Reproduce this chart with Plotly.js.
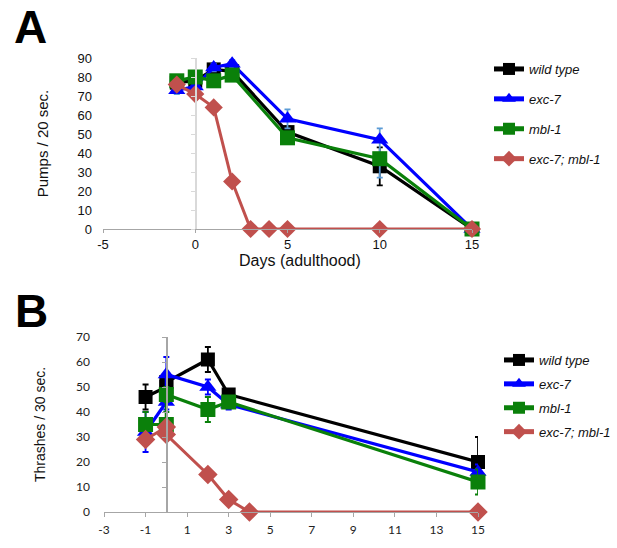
<!DOCTYPE html>
<html>
<head>
<meta charset="utf-8">
<script src="https://cdn.plot.ly/plotly-3.0.1.min.js"></script>
<style>html,body{margin:0;padding:0;background:#fff;}#chart{width:617px;height:548px;}</style>
</head>
<body>
<div id="chart"></div>
<script>
// ---------- Data ----------
const seriesNames = ["wild type", "exc-7", "mbl-1", "exc-7; mbl-1"];

// Panel A: pumps / 20 sec
const aDays = [-1, 0, 1, 2, 5, 10, 15];
const aWildType = [77, 78, 84, 83, 51, 33, 0];
const aWildTypeErr = [2, 2, 3, 2, 3, 10, 0];
const aExc7 = [73, 75, 85, 87, 58, 47, 0];
const aExc7ErrPlus = [2, 2, 2, 2, 5, 6, 0];
const aExc7ErrMinus = [2, 2, 2, 2, 5, 20, 0];
const aMbl1 = [78, 80, 78, 81, 48, 37, 0];
const aMbl1Err = [2, 2, 2, 2, 2, 3, 0];
const aDaysDouble = [-1, 0, 1, 2, 3, 4, 5, 10, 15];
const aDouble = [76, 71, 64, 25, 0, 0, 0, 0, 0];
const aDoubleErr = [1, 1, 1, 1, 0, 0, 0, 0, 0];

// Panel B: thrashes / 30 sec
const bDays = [-1, 0, 0, 2, 3, 15];
const bWildType = [46, 50, 52, 61, 47, 20];
const bWildTypeErr = [5, 2, 3, 5, 2, 10];
const bExc7 = [32, 44, 55, 50, 43, 16];
const bExc7Err = [8, 3, 7, 3, 2, 3];
const bMbl1 = [35, 35, 47, 41, 44, 12];
const bMbl1Err = [5, 5, 3, 5, 2, 5];
const bDaysDouble = [-1, 0, 0, 2, 3, 4, 15];
const bDouble = [29, 34, 31, 15, 5, 0, 0];
const bDoubleErr = [2, 2, 2, 2, 1, 0, 0];

const aTicks = [-5, 0, 5, 10, 15];
const bTicks = [-3, -1, 1, 3, 5, 7, 9, 11, 13, 15];

// ---------- Styles ----------
const colors = ["#000000", "#0000ff", "#0a800a", "#c0504d"];
const symbols = ["square", "triangle-up", "square", "diamond"];

function tr(x, y, errPlus, errMinus, i, xa, ya, legend, errColor, msize) {
  return {
    type: "scatter", mode: "lines+markers",
    x: x, y: y, xaxis: xa, yaxis: ya,
    name: seriesNames[i], legend: legend, legendgroup: legend + i,
    line: {color: colors[i], width: i === 3 ? 3 : 3.2},
    marker: {symbol: symbols[i], color: colors[i], size: msize[i]},
    error_y: {type: "data", array: errPlus, arrayminus: errMinus, symmetric: false,
              color: errColor, thickness: 1.8, width: 3},
    cliponaxis: false
  };
}

const aSizes = [14, 15, 15, 14];
const bSizes = [14, 15, 15, 15];

const data = [
  tr(aDays, aWildType, aWildTypeErr, aWildTypeErr, 0, "x", "y", "legend", "#000000", aSizes),
  tr(aDays, aExc7, aExc7ErrPlus, aExc7ErrMinus, 1, "x", "y", "legend", "#5b9bd5", aSizes),
  tr(aDays, aMbl1, aMbl1Err, aMbl1Err, 2, "x", "y", "legend", "#0a800a", aSizes),
  tr(aDaysDouble, aDouble, aDoubleErr, aDoubleErr, 3, "x", "y", "legend", "#c0504d", aSizes),
  tr(bDays, bWildType, bWildTypeErr, bWildTypeErr, 0, "x2", "y2", "legend2", "#000000", bSizes),
  tr(bDays, bExc7, bExc7Err, bExc7Err, 1, "x2", "y2", "legend2", "#0000ff", bSizes),
  tr(bDays, bMbl1, bMbl1Err, bMbl1Err, 2, "x2", "y2", "legend2", "#0a800a", bSizes),
  tr(bDaysDouble, bDouble, bDoubleErr, bDoubleErr, 3, "x2", "y2", "legend2", "#c0504d", bSizes),
  // carriers for the vertical axes drawn at x = 0
  {type: "scatter", x: [0], y: [0], xaxis: "x", yaxis: "y3", mode: "markers",
   marker: {opacity: 0}, showlegend: false, hoverinfo: "skip"},
  {type: "scatter", x: [0], y: [0], xaxis: "x2", yaxis: "y4", mode: "markers",
   marker: {opacity: 0}, showlegend: false, hoverinfo: "skip"}
];

const W = 617, H = 548;
const px = v => v / W;
const py = v => 1 - v / H;

const fontA = {family: "Liberation Sans, Arial, sans-serif", size: 13, color: "#111"};
const fontB = {family: "Lato, Carlito, sans-serif", size: 12, color: "#222"};

const layout = {
  width: W, height: H,
  margin: {l: 0, r: 0, t: 0, b: 0},
  paper_bgcolor: "#fff", plot_bgcolor: "#fff",
  showlegend: true,
  xaxis: {
    domain: [px(103), px(472)], anchor: "y", range: [-5, 15],
    tickmode: "array", tickvals: aTicks, ticktext: aTicks.map(String),
    showgrid: false, zeroline: false, showline: true, linecolor: "#a6a6a6", linewidth: 1.3,
    ticks: "outside", ticklen: 3, tickcolor: "#a6a6a6", tickfont: fontA, ticklabelstandoff: 0
  },
  yaxis: {
    domain: [py(229), py(58)], anchor: "x", range: [0, 90],
    tickmode: "array", tickvals: [0, 10, 20, 30, 40, 50, 60, 70, 80, 90],
    showgrid: false, zeroline: false, showline: false, ticks: "",
    tickfont: fontA, ticklabelstandoff: 10,
    title: {text: "Pumps / 20 sec.", font: {family: "Liberation Sans, Arial, sans-serif", size: 15, color: "#111"}, standoff: 25}
  },
  yaxis3: {
    overlaying: "y", anchor: "free", position: px(195.3), side: "left",
    range: [0, 90], tickmode: "array", tickvals: [0, 10, 20, 30, 40, 50, 60, 70, 80, 90],
    showticklabels: false, showgrid: false, zeroline: false,
    showline: true, linecolor: "#d9d9d9", linewidth: 1.3,
    ticks: "outside", ticklen: 4, tickcolor: "#d9d9d9"
  },
  xaxis2: {
    domain: [px(104), px(478)], anchor: "y2", range: [-3, 15],
    tickmode: "array", tickvals: bTicks, ticktext: bTicks.map(String),
    showgrid: false, zeroline: false, showline: true, linecolor: "#a6a6a6", linewidth: 1.3,
    ticks: "outside", ticklen: 4, tickcolor: "#a6a6a6", tickfont: fontB, ticklabelstandoff: 2
  },
  yaxis2: {
    domain: [py(512), py(337)], anchor: "x2", range: [0, 70],
    tickmode: "array", tickvals: [0, 10, 20, 30, 40, 50, 60, 70],
    showgrid: false, zeroline: false, showline: false, ticks: "",
    tickfont: fontB, ticklabelstandoff: 13,
    title: {text: "Thrashes / 30 sec.", font: {family: "Liberation Sans, Arial, sans-serif", size: 14, color: "#111"}, standoff: 27}
  },
  yaxis4: {
    overlaying: "y2", anchor: "free", position: px(166.3), side: "left",
    range: [0, 70], tickmode: "array", tickvals: [0, 10, 20, 30, 40, 50, 60, 70],
    showticklabels: false, showgrid: false, zeroline: false,
    showline: true, linecolor: "#a6a6a6", linewidth: 1.3,
    ticks: "outside", ticklen: 4, tickcolor: "#a6a6a6"
  },
  legend: {
    x: px(489), y: py(54), xanchor: "left", yanchor: "top",
    bgcolor: "rgba(0,0,0,0)", borderwidth: 0,
    traceorder: "grouped", tracegroupgap: 10, itemsizing: "constant",
    font: {family: "Liberation Sans, Arial, sans-serif", size: 13, color: "#111", style: "italic"}
  },
  legend2: {
    x: px(499), y: py(345), xanchor: "left", yanchor: "top",
    bgcolor: "rgba(0,0,0,0)", borderwidth: 0,
    traceorder: "grouped", tracegroupgap: 4, itemsizing: "constant",
    font: {family: "Liberation Sans, Arial, sans-serif", size: 13, color: "#111", style: "italic"}
  },
  annotations: [
    {text: "<b>A</b>", xref: "paper", yref: "paper", x: px(30), y: py(27),
     xanchor: "center", yanchor: "middle", showarrow: false,
     font: {family: "Liberation Sans, Arial, sans-serif", size: 46, color: "#000"}},
    {text: "<b>B</b>", xref: "paper", yref: "paper", x: px(31), y: py(311),
     xanchor: "center", yanchor: "middle", showarrow: false,
     font: {family: "Liberation Sans, Arial, sans-serif", size: 46, color: "#000"}},
    {text: "Days (adulthood)", xref: "paper", yref: "paper", x: px(300), y: py(260),
     xanchor: "center", yanchor: "middle", showarrow: false,
     font: {family: "Liberation Sans, Arial, sans-serif", size: 16, color: "#111"}}
  ]
};

Plotly.newPlot("chart", data, layout, {staticPlot: true, displayModeBar: false});
</script>
</body>
</html>
